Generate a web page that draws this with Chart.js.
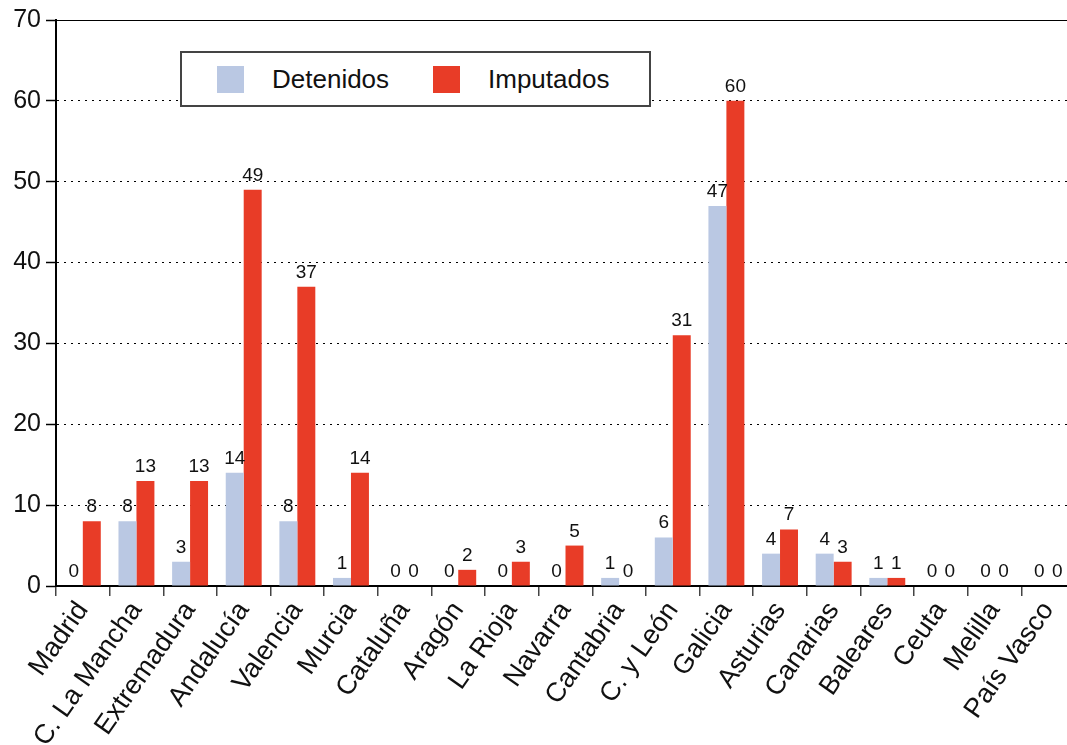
<!DOCTYPE html>
<html>
<head>
<meta charset="utf-8">
<script src="https://cdn.jsdelivr.net/npm/chart.js@4"></script>
<style>
  html, body { margin: 0; padding: 0; background: #fff; overflow: hidden; }
  #wrap { position: relative; width: 1080px; height: 745px; }
  .legend { position: absolute; left: 180px; top: 51px; width: 471px; height: 56px; box-sizing: border-box;
    border: 2px solid #444; background: #fff; display: flex; align-items: center; padding-left: 35px;
    font: 26px "Liberation Sans", Arial, sans-serif; color: #111; }
  .legend .item { display: flex; align-items: center; width: 220px; }
  .legend .sw { width: 27px; height: 27px; margin-right: 28px; }
</style>
</head>
<body>
<div id="wrap">
  <canvas id="chart"></canvas>
  <div class="legend" id="legend"></div>
</div>
<script>
const categories = ['Madrid', 'C. La Mancha', 'Extremadura', 'Andalucía', 'Valencia', 'Murcia', 'Cataluña',
  'Aragón', 'La Rioja', 'Navarra', 'Cantabria', 'C. y León', 'Galicia', 'Asturias', 'Canarias', 'Baleares',
  'Ceuta', 'Melilla', 'País Vasco'];
const detenidos = [0, 8, 3, 14, 8, 1, 0, 0, 0, 0, 1, 6, 47, 4, 4, 1, 0, 0, 0];
const imputados = [8, 13, 13, 49, 37, 14, 0, 2, 3, 5, 0, 31, 60, 7, 3, 1, 0, 0, 0];
const yTicks = [0, 10, 20, 30, 40, 50, 60, 70];

const FONT = '"Liberation Sans", Arial, sans-serif';

// numbers above the bars
const valueLabels = {
  id: 'valueLabels',
  afterDatasetsDraw(chart) {
    const ctx = chart.ctx;
    ctx.save();
    ctx.font = '19px ' + FONT;
    ctx.fillStyle = '#111';
    ctx.textAlign = 'center';
    ctx.textBaseline = 'alphabetic';
    chart.data.datasets.forEach((ds, i) => {
      chart.getDatasetMeta(i).data.forEach((el, j) => {
        ctx.fillText(String(ds.data[j]), el.x, el.y - 9);
      });
    });
    ctx.restore();
  }
};

const chart = new Chart(document.getElementById('chart'), {
  type: 'bar',
  data: {
    labels: categories,
    datasets: [
      { label: 'Detenidos', data: detenidos, backgroundColor: '#bac8e3' },
      { label: 'Imputados', data: imputados, backgroundColor: '#e83c27' }
    ]
  },
  options: {
    responsive: true,
    maintainAspectRatio: false,
    animation: false,
    events: [],
    layout: { padding: { top: 20, right: 5, left: 0, bottom: 0 } },
    datasets: { bar: { barPercentage: 1, categoryPercentage: 0.67 } },
    plugins: { legend: { display: false }, tooltip: { enabled: false } },
    scales: {
      x: {
        grid: { drawOnChartArea: false, offset: true, tickLength: 10, color: '#444', lineWidth: 1.5 },
        border: { display: true, color: '#000', width: 2 },
        ticks: { autoSkip: false, minRotation: 55, maxRotation: 55, padding: 0,
          font: { family: FONT, size: 27 }, color: '#111' },
        afterFit: s => { s.height = 159; }
      },
      y: {
        min: 0, max: 70,
        afterBuildTicks: s => { s.ticks = yTicks.map(v => ({ value: v })); },
        grid: { color: '#000', lineWidth: 1, tickLength: 10, tickColor: '#000', tickWidth: 1.5, tickBorderDash: [] },
        border: { display: true, color: '#000', width: 2,
          dash: c => (c.tick && c.tick.value === 70) ? [] : [2, 5] },
        ticks: { padding: 5, font: { family: FONT, size: 25 }, color: '#111' },
        afterFit: s => { s.width = 56; }
      }
    }
  },
  plugins: [valueLabels]
});

const legend = document.getElementById('legend');
chart.data.datasets.forEach(ds => {
  const item = document.createElement('div');
  item.className = 'item';
  const sw = document.createElement('span');
  sw.className = 'sw';
  sw.style.background = ds.backgroundColor;
  const tx = document.createElement('span');
  tx.textContent = ds.label;
  item.appendChild(sw);
  item.appendChild(tx);
  legend.appendChild(item);
});
</script>
</body>
</html>
